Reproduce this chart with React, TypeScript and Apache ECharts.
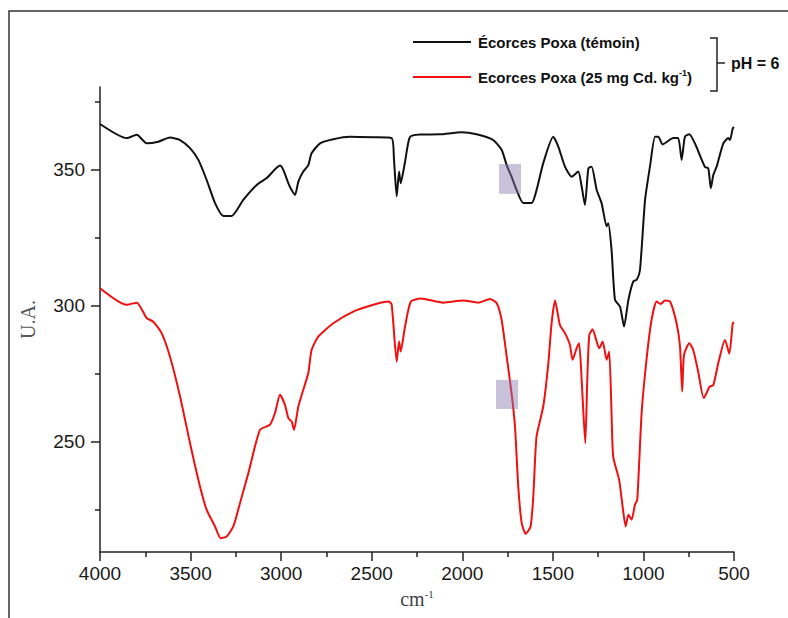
import React, { useEffect, useRef } from "react";
import * as echarts from "echarts";

// Wavenumbers (cm-1) and intensities (U.A.)
const blackWavenumbers = [4000, 3853, 3797, 3742, 3678, 3614, 3558, 3503, 3457, 3411, 3365, 3319, 3273, 3209, 3135, 3080, 3006, 2988, 2960, 2942, 2923, 2905, 2878, 2850, 2832, 2785, 2712, 2620, 2491, 2390, 2377, 2362, 2349, 2340, 2316, 2289, 2233, 2123, 2003, 1921, 1829, 1783, 1755, 1728, 1700, 1663, 1617, 1590, 1553, 1498, 1470, 1433, 1396, 1360, 1341, 1323, 1304, 1286, 1258, 1231, 1203, 1194, 1176, 1157, 1129, 1107, 1083, 1056, 1037, 1019, 991, 964, 936, 918, 894, 835, 808, 789, 771, 747, 716, 661, 642, 628, 614, 596, 559, 531, 522, 507, 500];
const blackValues = [366.9, 361.7, 362.9, 359.8, 360.4, 361.9, 361.0, 358.0, 353.7, 346.3, 337.8, 333.1, 333.1, 339.0, 344.5, 347.0, 351.6, 350.0, 345.1, 342.6, 340.8, 345.7, 349.4, 351.8, 356.1, 359.8, 361.3, 362.2, 362.0, 361.7, 353.7, 340.3, 349.4, 345.1, 353.0, 362.1, 363.0, 363.1, 363.9, 363.1, 361.0, 357.4, 351.8, 347.5, 342.6, 337.8, 337.8, 342.6, 352.5, 362.2, 358.6, 351.2, 347.5, 349.4, 343.9, 337.1, 350.6, 351.2, 342.6, 337.8, 329.2, 330.4, 320.6, 302.2, 299.7, 292.4, 302.2, 309.0, 309.6, 313.2, 339.0, 351.2, 362.2, 362.2, 359.4, 361.7, 361.7, 353.7, 362.2, 363.1, 359.8, 351.2, 350.6, 343.3, 348.2, 351.2, 359.8, 361.7, 361.0, 365.3, 365.8];

const redWavenumbers = [4000, 3853, 3797, 3742, 3706, 3660, 3614, 3558, 3503, 3448, 3411, 3365, 3334, 3301, 3264, 3227, 3181, 3117, 3062, 3034, 3006, 2979, 2960, 2942, 2929, 2905, 2878, 2850, 2832, 2795, 2712, 2602, 2491, 2408, 2390, 2362, 2349, 2340, 2316, 2284, 2229, 2105, 1995, 1912, 1847, 1810, 1783, 1755, 1728, 1709, 1691, 1672, 1650, 1623, 1608, 1590, 1553, 1525, 1507, 1488, 1461, 1433, 1406, 1391, 1369, 1355, 1341, 1321, 1310, 1299, 1281, 1244, 1225, 1203, 1189, 1176, 1167, 1134, 1115, 1098, 1083, 1065, 1047, 1034, 1010, 983, 955, 927, 905, 881, 853, 817, 798, 786, 776, 747, 725, 698, 667, 634, 614, 587, 550, 526, 507, 500];
const redValues = [306.5, 300.4, 301.2, 295.5, 294.2, 290.0, 281.4, 266.7, 249.5, 233.6, 225.0, 218.9, 214.6, 215.2, 218.9, 227.5, 238.5, 254.4, 256.3, 260.6, 267.3, 263.6, 258.7, 257.5, 254.4, 263.0, 269.1, 275.3, 283.8, 288.7, 293.6, 297.9, 300.4, 301.6, 300.6, 279.5, 286.9, 283.2, 292.4, 301.6, 302.7, 301.2, 302.0, 301.2, 302.5, 301.0, 294.9, 281.4, 267.9, 255.6, 233.6, 220.1, 216.2, 218.9, 229.9, 252.0, 263.0, 278.9, 293.6, 302.0, 293.0, 290.0, 285.7, 280.2, 284.4, 286.3, 272.8, 249.5, 272.8, 289.3, 291.4, 284.4, 286.9, 280.2, 283.2, 260.6, 244.6, 236.0, 226.2, 218.9, 223.2, 221.4, 226.9, 228.7, 260.6, 280.2, 294.9, 301.6, 300.7, 302.0, 301.6, 293.6, 285.0, 268.5, 282.0, 286.3, 283.8, 275.9, 266.1, 270.3, 270.9, 278.9, 287.5, 282.4, 293.6, 294.0];

const xMinorValues = [3750, 3250, 2750, 2250, 1750, 1250, 750];
const yLabelValues = [250, 300, 350];
const yMinorValues = [225, 275, 325, 375];
const yMin = 209.5;
const yMax = 380.5;

// highlighted zones [x1, y1, x2, y2]
const blackZone = [1797, 352.2, 1676, 341.2];
const redZone = [1814, 272.8, 1692, 262.1];

const seriesNames = ["témoin", "Cd"];

const zip = (xs: number[], ys: number[]) => xs.map((x, i) => [x, ys[i]]);

export default function App() {
  const ref = useRef<HTMLDivElement>(null);
  useEffect(() => {
    if (!ref.current) return;
    const chart = echarts.init(ref.current, null, { renderer: "svg" });
    const sans = "Liberation Sans";
    const serif = "Liberation Serif";
    const axisColor = "#222";
    const zoneStyle = { color: "rgba(133,120,173,0.45)" };
    chart.setOption({
      animation: false,
      backgroundColor: "#fff",
      grid: { left: 100, right: 54, top: 87, bottom: 66 },
      legend: {
        orient: "vertical",
        left: 408,
        top: 28,
        itemWidth: 58,
        itemHeight: 2,
        itemGap: 17,
        icon: "rect",
        data: seriesNames,
        textStyle: {
          fontFamily: sans,
          fontWeight: "bold",
          fontSize: 15,
          color: "#111",
          lineHeight: 18,
          padding: [0, 0, 0, 2],
          rich: {
            sup: { fontFamily: sans, fontWeight: "bold", fontSize: 9, color: "#111", verticalAlign: "top", padding: [0, 0, 6, 0] },
          },
        },
        formatter: (name: string) =>
          name === "témoin" ? "Écorces Poxa (témoin)" : "Ecorces Poxa (25 mg Cd. kg{sup|-1})",
      },
      xAxis: [
        {
          type: "value",
          min: 500,
          max: 4000,
          interval: 500,
          inverse: true,
          name: "cm{sup|-1}",
          nameLocation: "middle",
          nameGap: 36,
          nameTextStyle: {
            fontFamily: serif,
            fontSize: 20,
            color: "#444",
            rich: { sup: { fontFamily: serif, fontSize: 11, color: "#444", verticalAlign: "top", padding: [0, 0, 10, 0] } },
          },
          axisLine: { lineStyle: { color: axisColor, width: 1.5 } },
          axisTick: { length: 9, lineStyle: { color: axisColor, width: 1.5 } },
          axisLabel: {
            fontFamily: sans,
            fontSize: 19,
            color: "#1a1a1a",
            margin: 12,
            formatter: (v: number) => String(v),
          },
          splitLine: { show: false },
        },
        {
          type: "value",
          min: 500,
          max: 4000,
          inverse: true,
          position: "bottom",
          axisLine: { show: false },
          axisTick: { show: true, length: 5, customValues: xMinorValues, lineStyle: { color: axisColor, width: 1.5 } },
          axisLabel: { show: false },
          splitLine: { show: false },
        },
      ],
      yAxis: [
        {
          type: "value",
          min: yMin,
          max: yMax,
          name: "U.A.",
          nameLocation: "middle",
          nameGap: 62,
          nameRotate: 90,
          nameTextStyle: { fontFamily: serif, fontSize: 20, color: "#555" },
          axisLine: { show: true, lineStyle: { color: axisColor, width: 1.5 } },
          axisTick: { show: true, length: 9, customValues: yLabelValues, lineStyle: { color: axisColor, width: 1.5 } },
          axisLabel: { fontFamily: sans, fontSize: 19, color: "#1a1a1a", margin: 15, customValues: yLabelValues },
          splitLine: { show: false },
        },
        {
          type: "value",
          min: yMin,
          max: yMax,
          position: "left",
          axisLine: { show: false },
          axisTick: { show: true, length: 5, customValues: yMinorValues, lineStyle: { color: axisColor, width: 1.5 } },
          axisLabel: { show: false },
          splitLine: { show: false },
        },
      ],
      series: [
        {
          name: seriesNames[0],
          type: "line",
          data: zip(blackWavenumbers, blackValues),
          showSymbol: false,
          smooth: 0.2,
          lineStyle: { color: "#111", width: 2 },
          itemStyle: { color: "#111" },
          z: 3,
          markArea: {
            silent: true,
            z: 10,
            itemStyle: zoneStyle,
            data: [[{ coord: [blackZone[0], blackZone[1]] }, { coord: [blackZone[2], blackZone[3]] }]],
          },
        },
        {
          name: seriesNames[1],
          type: "line",
          data: zip(redWavenumbers, redValues),
          showSymbol: false,
          smooth: 0.2,
          lineStyle: { color: "#f01010", width: 2 },
          itemStyle: { color: "#f01010" },
          z: 3,
          markArea: {
            silent: true,
            z: 10,
            itemStyle: zoneStyle,
            data: [[{ coord: [redZone[0], redZone[1]] }, { coord: [redZone[2], redZone[3]] }]],
          },
        },
      ],
      graphic: [
        {
          type: "polyline",
          shape: { points: [[9, 618], [9, 11], [788, 11]] },
          style: { stroke: "#333", lineWidth: 1.5, fill: "none" },
          silent: true,
        },
        {
          type: "polyline",
          shape: { points: [[710, 38], [717, 38], [717, 91], [710, 91]] },
          style: { stroke: "#222", lineWidth: 1.5, fill: "none" },
          silent: true,
        },
        {
          type: "line",
          shape: { x1: 717, y1: 63, x2: 725, y2: 63 },
          style: { stroke: "#222", lineWidth: 1.5 },
          silent: true,
        },
        {
          type: "text",
          x: 731,
          y: 63,
          style: {
            text: "pH = 6",
            fontFamily: sans,
            fontWeight: "bold",
            fontSize: 16,
            fill: "#111",
            verticalAlign: "middle",
            align: "left",
          },
          silent: true,
        },
      ],
    });
    return () => chart.dispose();
  }, []);
  return <div ref={ref} style={{ position: "fixed", left: 0, top: 0, width: 788, height: 618 }} />;
}
